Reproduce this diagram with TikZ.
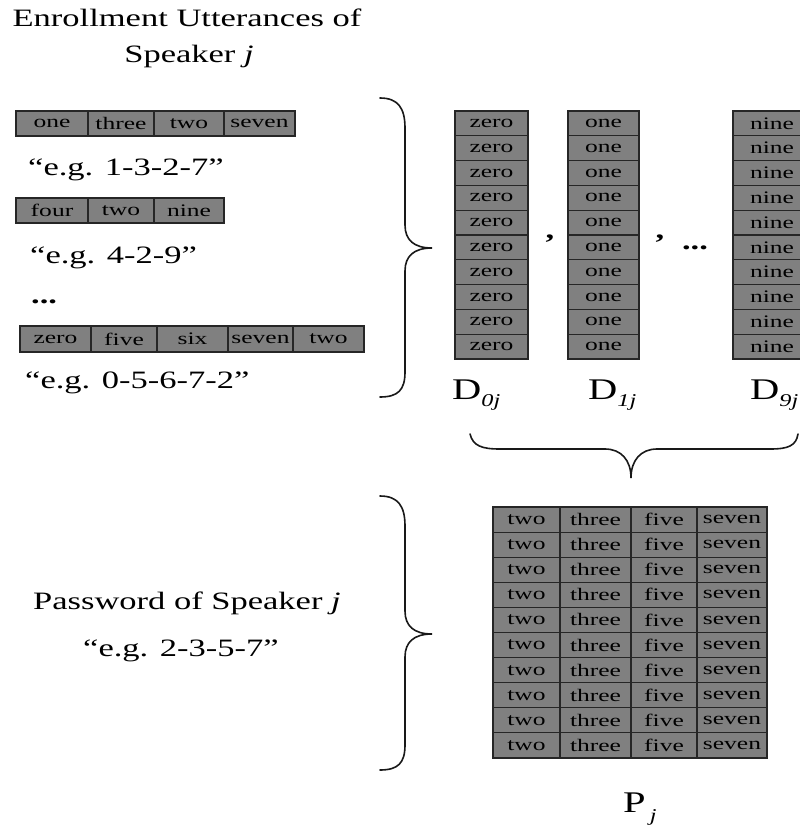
\documentclass[tikz,border=0pt]{standalone}
\usepackage{fontspec}
\setmainfont{Liberation Serif}
\definecolor{cellgray}{RGB}{128,128,128}
% horizontally widened text
\newcommand\wtxt[1]{\scalebox{1.38}[1]{#1}}
\newcommand\ctxt[1]{\scalebox{1.45}[1]{#1}}
\newcommand\sublbl[3]{\scalebox{1.35}[1]{#1\raisebox{#3}{\fontsize{18}{20}\selectfont\itshape #2}}}
\begin{document}
\begin{tikzpicture}[x=1pt,y=-1pt,
  cellbox/.style={draw=black!85, fill=cellgray, line width=1.1pt, inner sep=0pt,
                  font=\fontsize{17.6}{19}\selectfont},
  plain/.style={inner sep=0pt, font=\fontsize{25}{29}\selectfont},
  dlabel/.style={inner sep=0pt, anchor=base west, font=\fontsize{30}{34}\selectfont},
  bracepath/.style={line width=1.6pt, line cap=round, draw=black!90}]
\useasboundingbox (0,0) rectangle (800,827);

% heading
\node[plain, anchor=base] (title1) at (187,27) {\wtxt{Enrollment Utterances of}};
\node[plain, anchor=base] (title2) at (189,62) {\wtxt{Speaker \textit{j}}};

% enrollment utterances
\foreach \name/\xa/\xb/\t in {r1a/16/88/one, r1b/88/154/three, r1c/154/224/two, r1d/224/295/seven}
  \node[cellbox, minimum width={(\xb-\xa)*1pt}, minimum height=25pt] (\name) at ({(\xa+\xb)/2},123.5) {\ctxt{\t}};
\node[plain, anchor=base west] (eg1) at (28,175) {\wtxt{“e.g. 1-3-2-7”}};

\foreach \name/\xa/\xb/\t in {r2a/16/88/four, r2b/88/154/two, r2c/154/224/nine}
  \node[cellbox, minimum width={(\xb-\xa)*1pt}, minimum height=25pt] (\name) at ({(\xa+\xb)/2},210.5) {\ctxt{\t}};
\node[plain, anchor=base west] (eg2) at (30,263) {\wtxt{“e.g. 4-2-9”}};

\node[plain, anchor=base west] (dotsl) at (31,303) {\wtxt{\textbf{...}}};

\foreach \name/\xa/\xb/\t in {r3a/20/91/zero, r3b/91/157/five, r3c/157/228/six, r3d/228/293/seven, r3e/293/364/two}
  \node[cellbox, minimum width={(\xb-\xa)*1pt}, minimum height=26pt] (\name) at ({(\xa+\xb)/2},339) {\ctxt{\t}};
\node[plain, anchor=base west] (eg3) at (25,388) {\wtxt{“e.g. 0-5-6-7-2”}};

% digit collections
\foreach \c/\x/\w/\t in {0/491.5/73/zero, 1/603.5/71/one, 9/772/78/nine}
  \foreach \r in {1,...,10}
    \node[cellbox, minimum width=\w pt, minimum height=24.8pt] (d\c-\r) at (\x,{111+24.8*(\r-0.5)}) {\ctxt{\t}};
\node[plain, anchor=base] (comma1) at (550,238) {\wtxt{\textbf{,}}};
\node[plain, anchor=base] (comma2) at (660,238) {\wtxt{\textbf{,}}};
\node[plain, anchor=base] (dotsr) at (695,249) {\wtxt{\textbf{...}}};

\node[dlabel] (lab0) at (452,399) {\sublbl{D}{0j}{-7pt}};
\node[dlabel] (lab1) at (588,399) {\sublbl{D}{1j}{-7pt}};
\node[dlabel] (lab9) at (750,399) {\sublbl{D}{9j}{-7pt}};

% password matrix
\foreach \col/\xa/\xb/\t in {a/493/560/two, b/560/631/three, c/631/697/five, d/697/767/seven}
  \foreach \r in {1,...,10}
    \node[cellbox, minimum width={(\xb-\xa)*1pt}, minimum height=25.1pt] (p\col-\r) at ({(\xa+\xb)/2},{507+25.1*(\r-0.5)}) {\ctxt{\t}};
\node[dlabel] (labp) at (623,812) {\sublbl{P}{\,j}{-9pt}};

% password text
\node[plain, anchor=base west] (pw1) at (33,609) {\wtxt{Password of Speaker \textit{j}}};
\node[plain, anchor=base west] (pw2) at (83,656) {\wtxt{“e.g. 2-3-5-7”}};

% braces
\coordinate (b1top) at (380,98);
\coordinate (b1tip) at (432,248);
\coordinate (b1bot) at (380,397);
\draw[bracepath] (b1top) .. controls (398,98) and (405,108) .. (405,128) -- (405,225)
  .. controls (405,240) and (414,248) .. (b1tip)
  .. controls (414,248) and (405,256) .. (405,271) -- (405,372)
  .. controls (405,390) and (398,397) .. (b1bot);

\coordinate (b2top) at (380,496);
\coordinate (b2tip) at (432,634);
\coordinate (b2bot) at (380,770);
\draw[bracepath] (b2top) .. controls (398,496) and (405,506) .. (405,526) -- (405,611)
  .. controls (405,626) and (414,634) .. (b2tip)
  .. controls (414,634) and (405,642) .. (405,657) -- (405,745)
  .. controls (405,763) and (398,770) .. (b2bot);

\coordinate (b3left) at (470,434);
\coordinate (b3tip) at (631,478);
\coordinate (b3right) at (798,434);
\draw[bracepath] (b3left) .. controls (473,446) and (482,449) .. (500,449) -- (605,449)
  .. controls (621,449) and (631,460) .. (b3tip)
  .. controls (631,460) and (641,449) .. (657,449) -- (770,449)
  .. controls (788,449) and (796,446) .. (b3right);
\end{tikzpicture}
\end{document}
